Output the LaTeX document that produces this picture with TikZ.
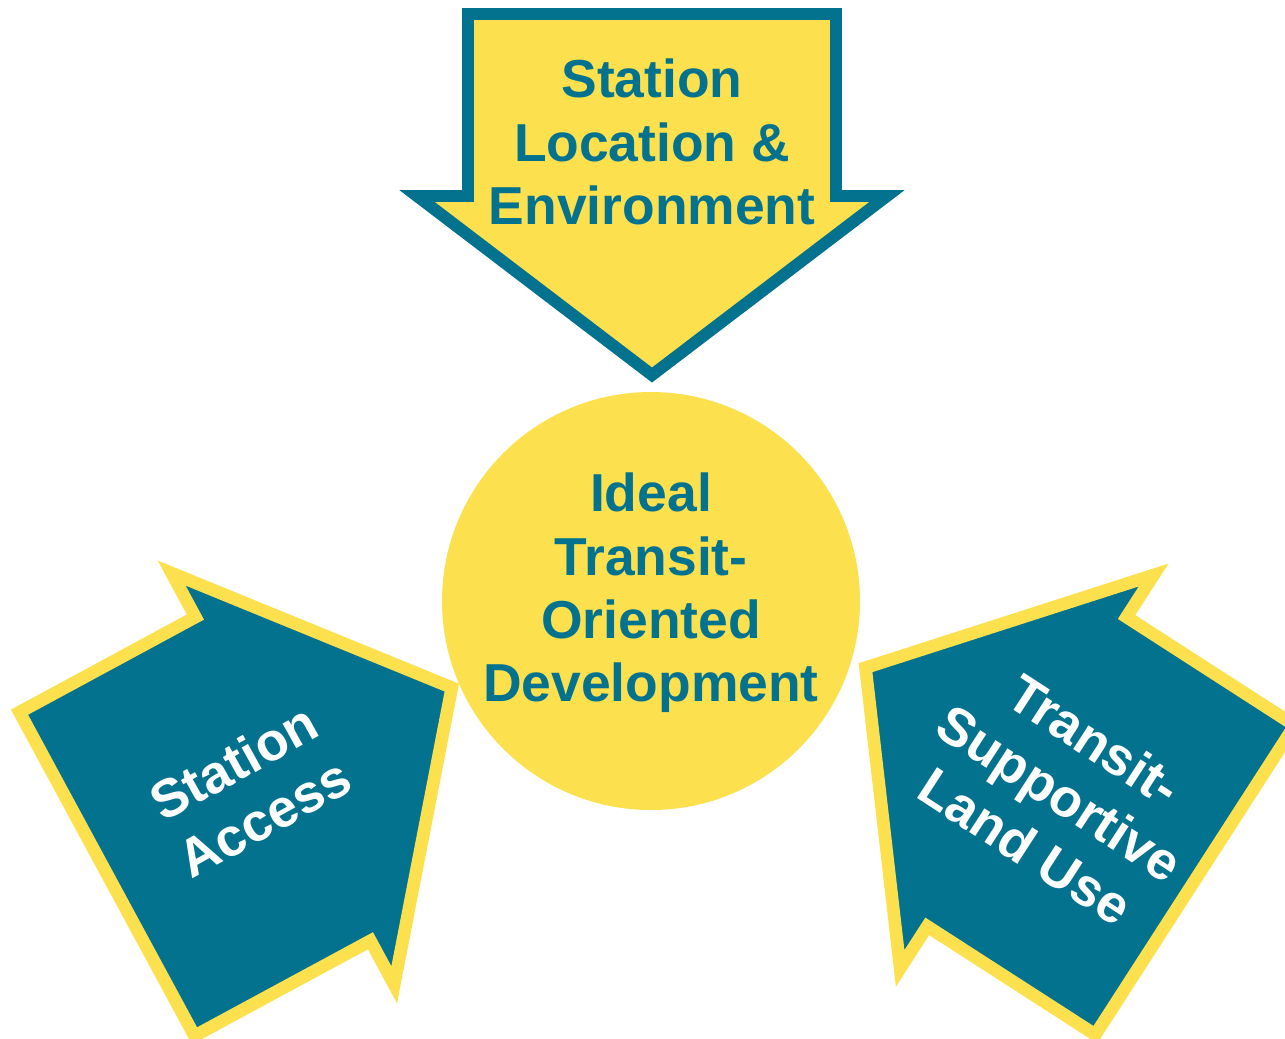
\documentclass[tikz,border=0pt]{standalone}
\usepackage{fontspec}
\setmainfont{Liberation Sans}
\usetikzlibrary{positioning}

\definecolor{todteal}{RGB}{2,114,143}
\definecolor{todyellow}{RGB}{253,224,77}

\begin{document}
\begin{tikzpicture}[font=\bfseries\fontsize{15.2}{18}\selectfont,
    every node/.style={align=center},
    toparrow/.style={fill=todyellow, draw=todteal, line width=3.4pt, miter limit=20},
    sidearrow/.style={fill=todteal, draw=todyellow, line width=3.6pt, miter limit=20},
    hub/.style={circle, fill=todyellow, minimum size=4.18cm, inner sep=0pt},
    darktext/.style={text=todteal},
    lighttext/.style={text=white},
]

\useasboundingbox (0,0) rectangle (12.85,-10.38);

% top arrow, pointing down to the hub
\draw[toparrow, shift={(6.52,-0.14)}, rotate=-90]
  (0,-1.84) -- (1.82,-1.84) -- (1.82,-2.35) -- (3.61,0)
  -- (1.82,2.35) -- (1.82,1.84) -- (0,1.84) -- cycle;
\node[darktext] (location) at (6.52,-1.42) {Station\\Location \&\\Environment};

% hub
\node[hub] (hub) at (6.51,-6.01) {};
\node[darktext] (hubtext) at (6.51,-5.93) {Ideal\\Transit-\\Oriented\\Development};

% left arrow
\draw[sidearrow, shift={(1.07,-8.74)}, rotate=28.4]
  (0,-1.84) -- (2.0,-1.84) -- (2.0,-2.34) -- (3.92,0)
  -- (2.0,2.34) -- (2.0,1.84) -- (0,1.84) -- cycle;
\node[lighttext, rotate=29] (access) at (2.49,-7.90) {Station\\Access};

% right arrow
\draw[sidearrow, shift={(11.95,-8.80)}, rotate=147.2]
  (0,-1.84) -- (2.0,-1.84) -- (2.0,-2.34) -- (3.92,0)
  -- (2.0,2.34) -- (2.0,1.84) -- (0,1.84) -- cycle;
\node[lighttext, rotate=-33] (landuse) at (10.60,-7.93) {Transit-\\Supportive\\Land Use};

\end{tikzpicture}
\end{document}
